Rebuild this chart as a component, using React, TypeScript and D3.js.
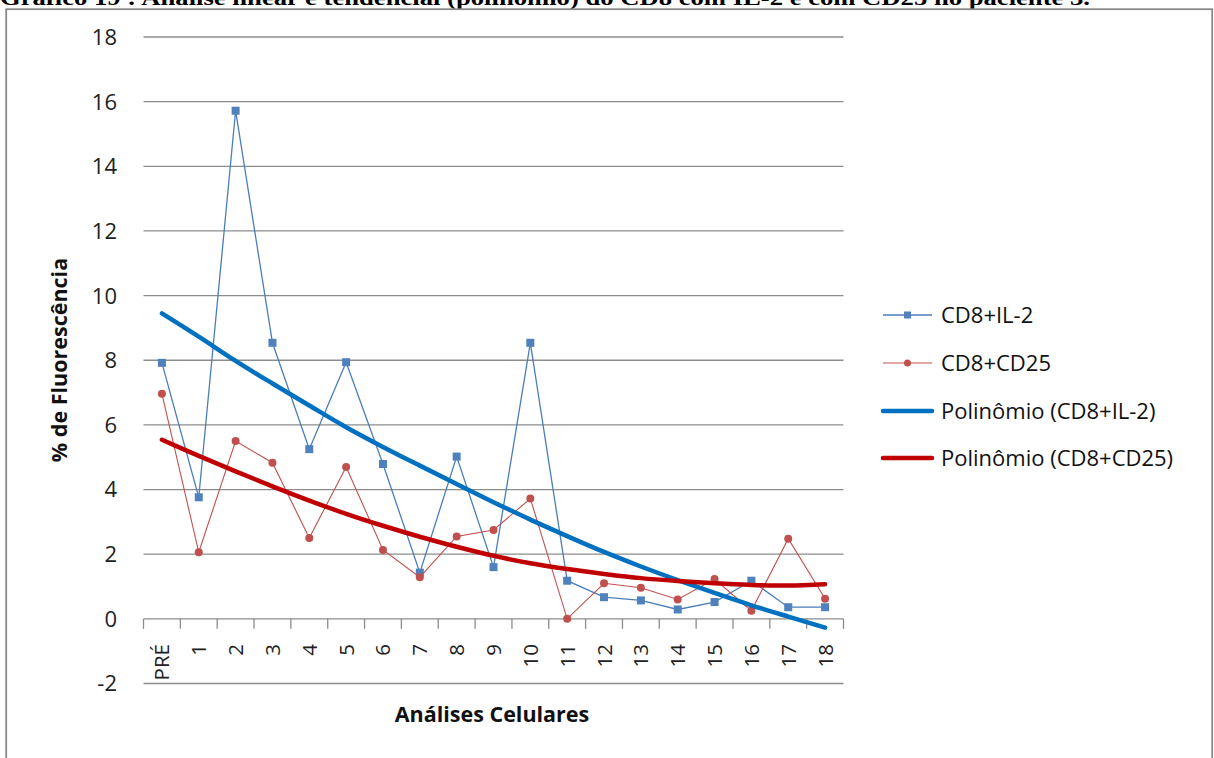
import React from "react";
import * as d3 from "d3";

const categories = ["PRÉ", "1", "2", "3", "4", "5", "6", "7", "8", "9", "10", "11", "12", "13", "14", "15", "16", "17", "18"];
const cd8Il2 = [7.92, 3.76, 15.72, 8.54, 5.25, 7.94, 4.79, 1.43, 5.02, 1.6, 8.54, 1.18, 0.67, 0.57, 0.29, 0.52, 1.18, 0.36, 0.36];
const cd8Cd25 = [6.96, 2.06, 5.5, 4.83, 2.5, 4.7, 2.13, 1.29, 2.55, 2.75, 3.72, 0.0, 1.1, 0.96, 0.6, 1.23, 0.25, 2.48, 0.62];
const trendIl2 = [9.45, 8.73, 7.98, 7.28, 6.6, 5.93, 5.32, 4.74, 4.17, 3.61, 3.07, 2.56, 2.07, 1.62, 1.2, 0.8, 0.42, 0.07, -0.27];
const trendCd25 = [5.54, 5.04, 4.56, 4.1, 3.66, 3.25, 2.88, 2.54, 2.23, 1.95, 1.72, 1.54, 1.39, 1.26, 1.17, 1.1, 1.05, 1.03, 1.07];
const yTickValues = [-2, 0, 2, 4, 6, 8, 10, 12, 14, 16, 18];
const legendLabels = ["CD8+IL-2", "CD8+CD25", "Polinômio (CD8+IL-2)", "Polinômio (CD8+CD25)"];
const titleText = "Gráfico 19 : Análise linear e tendencial (polinômio) do CD8 com IL-2 e com CD25 no paciente 3.";

const FONT = "'Open Sans', 'Noto Sans', sans-serif";
const BLUE = "#4a7ebb";
const BLUE_FILL = "#4f81bd";
const RED = "#c0504d";
const TREND_BLUE = "#0070c0";
const TREND_RED = "#c00000";
const GRID = "#8c8c8c";

export default function App() {
  const W = 1214;
  const H = 758;
  const x = d3.scaleBand<string>().domain(categories).range([143.5, 843.5]).padding(0);
  const y = d3.scaleLinear().domain([-2, 18]).range([683.5, 37]);
  const cx = (i: number) => (x(categories[i]) as number) + x.bandwidth() / 2;

  const straight = d3
    .line<number>()
    .x((_, i) => cx(i))
    .y((d) => y(d));
  const smooth = d3
    .line<number>()
    .x((_, i) => cx(i))
    .y((d) => y(d))
    .curve(d3.curveCatmullRom.alpha(0.5));

  const y0 = y(0);
  const boundaries = [...categories.map((c) => x(c) as number), 843.5];

  const legendY = [315, 363, 411, 458];
  const lx0 = 883;
  const lx1 = 932;
  const ltx = 941;

  return (
    <svg
      width={W}
      height={H}
      style={{ position: "absolute", left: 0, top: 0, background: "#fff" }}
    >
      <rect x={0} y={0} width={W} height={H} fill="#fff" />
      {/* title (cut off at top, as in the source page) */}
      <text
        x={0}
        y={4.5}
        fontFamily="'Liberation Serif', 'Times New Roman', serif"
        fontWeight="bold"
        fontSize={22}
        textLength={1090}
        lengthAdjust="spacingAndGlyphs"
        fill="#000"
      >
        {titleText}
      </text>
      {/* frame */}
      <rect x={6.2} y={9.2} width={1206} height={800} fill="none" stroke="#8a8a8a" strokeWidth={1.8} />

      {/* gridlines */}
      {yTickValues
        .filter((v) => v !== 0)
        .map((v) => (
          <line key={v} x1={143.5} x2={843.5} y1={y(v)} y2={y(v)} stroke={GRID} strokeWidth={1.3} />
        ))}
      {/* y tick labels */}
      {yTickValues.map((v) => (
        <text
          key={"t" + v}
          x={117}
          y={y(v)}
          dy="0.36em"
          textAnchor="end"
          fontFamily={FONT}
          fontSize={22}
          fill="#222"
        >
          {v}
        </text>
      ))}
      {/* x axis */}
      <line x1={143.5} x2={843.5} y1={y0} y2={y0} stroke={GRID} strokeWidth={1.3} />
      {boundaries.map((b, i) => (
        <line key={"b" + i} x1={b} x2={b} y1={y0} y2={y0 + 10} stroke={GRID} strokeWidth={1.3} />
      ))}
      {categories.map((c, i) => (
        <text
          key={"c" + c}
          transform={`translate(${cx(i) + 7.5},${644}) rotate(-90)`}
          textAnchor="end"
          fontFamily={FONT}
          fontSize={20.5}
          fill="#222"
        >
          {c}
        </text>
      ))}

      {/* axis titles */}
      <text
        transform={`translate(67,360) rotate(-90)`}
        textAnchor="middle"
        fontFamily={FONT}
        fontWeight="bold"
        fontSize={21.5}
        fill="#111"
      >
        % de Fluorescência
      </text>
      <text
        x={492}
        y={722}
        textAnchor="middle"
        fontFamily={FONT}
        fontWeight="bold"
        fontSize={21.5}
        fill="#111"
      >
        Análises Celulares
      </text>

      {/* data series */}
      <path d={straight(cd8Il2) as string} fill="none" stroke={BLUE} strokeWidth={1.3} />
      {cd8Il2.map((v, i) => (
        <rect key={"s" + i} x={cx(i) - 4} y={y(v) - 4} width={8} height={8} fill={BLUE_FILL} />
      ))}
      <path d={straight(cd8Cd25) as string} fill="none" stroke={RED} strokeWidth={1.1} />
      {cd8Cd25.map((v, i) => (
        <circle key={"r" + i} cx={cx(i)} cy={y(v)} r={4} fill={RED} />
      ))}

      {/* trendlines */}
      <path d={smooth(trendIl2) as string} fill="none" stroke={TREND_BLUE} strokeWidth={4.5} strokeLinecap="round" />
      <path d={smooth(trendCd25) as string} fill="none" stroke={TREND_RED} strokeWidth={4.5} strokeLinecap="round" />

      {/* legend */}
      <line x1={lx0} x2={lx1} y1={legendY[0]} y2={legendY[0]} stroke={BLUE} strokeWidth={1.3} />
      <rect x={(lx0 + lx1) / 2 - 3.5} y={legendY[0] - 3.5} width={7} height={7} fill={BLUE_FILL} />
      <line x1={lx0} x2={lx1} y1={legendY[1]} y2={legendY[1]} stroke={RED} strokeWidth={1.1} />
      <circle cx={(lx0 + lx1) / 2} cy={legendY[1]} r={3.5} fill={RED} />
      <line x1={lx0} x2={lx1} y1={legendY[2]} y2={legendY[2]} stroke={TREND_BLUE} strokeWidth={4.5} strokeLinecap="round" />
      <line x1={lx0} x2={lx1} y1={legendY[3]} y2={legendY[3]} stroke={TREND_RED} strokeWidth={4.5} strokeLinecap="round" />
      {legendLabels.map((l, i) => (
        <text
          key={l}
          x={ltx}
          y={legendY[i]}
          dy="0.36em"
          fontFamily={FONT}
          fontSize={22}
          fill="#111"
        >
          {l}
        </text>
      ))}
    </svg>
  );
}
